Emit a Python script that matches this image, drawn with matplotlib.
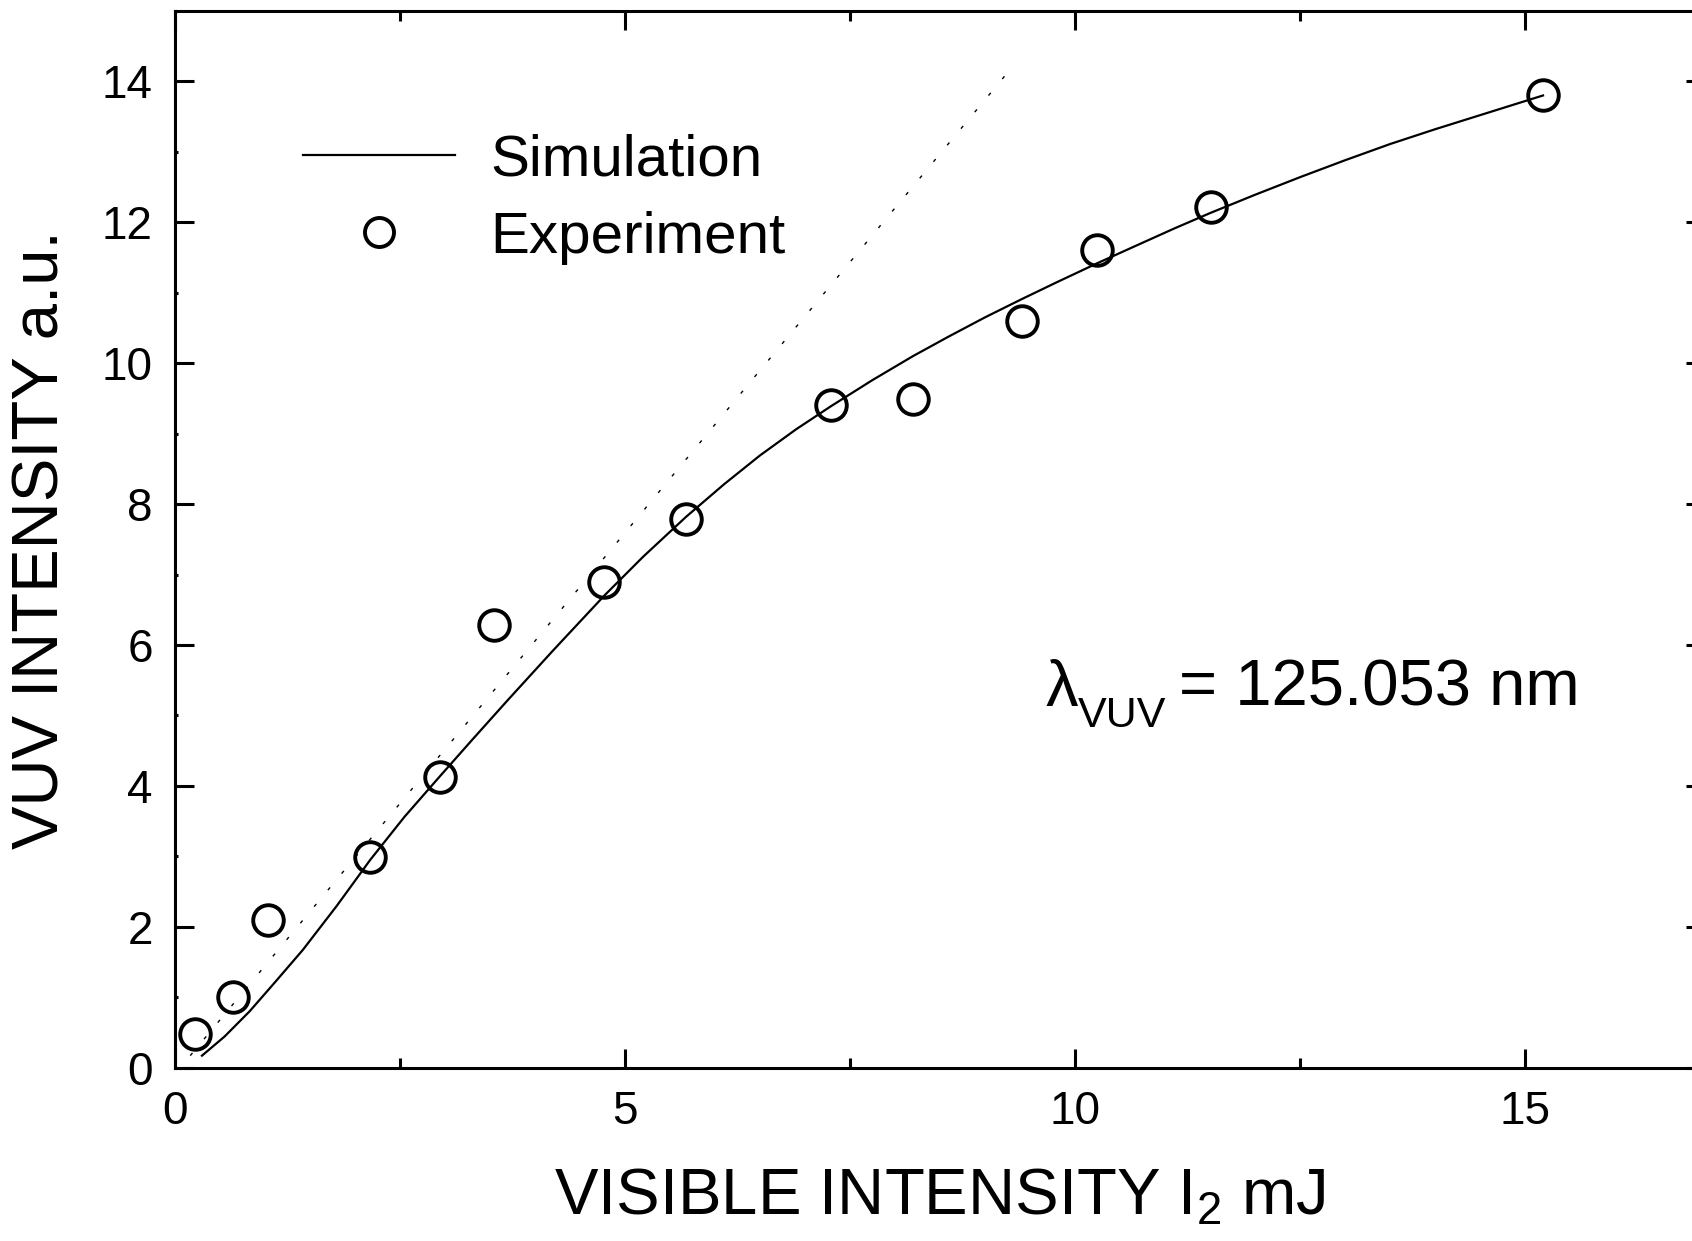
import matplotlib
matplotlib.use("Agg")
from matplotlib import pyplot as plt
from matplotlib.ticker import MultipleLocator

# measured points
EXP_X = [0.22, 0.65, 1.03, 2.17, 2.94, 3.55, 4.77, 5.68, 7.29, 8.20, 9.41, 10.25, 11.51, 15.20]
EXP_Y = [0.48, 1.00, 2.09, 2.99, 4.13, 6.29, 6.89, 7.79, 9.40, 9.49, 10.60, 11.60, 12.21, 13.80]

# simulated response
SIM_X = [0.30, 0.55, 0.83, 1.11, 1.42, 1.80, 2.17, 2.55, 2.94, 3.30, 3.70, 4.20, 4.77, 5.20,
         5.68, 6.10, 6.50, 6.90, 7.29, 7.75, 8.20, 8.60, 9.00, 9.41, 9.80, 10.25, 10.70, 11.10,
         11.50, 12.00, 12.50, 13.00, 13.50, 14.00, 14.60, 15.20]
SIM_Y = [0.17, 0.44, 0.80, 1.21, 1.67, 2.30, 2.95, 3.56, 4.13, 4.65, 5.22, 5.92, 6.70, 7.25,
         7.82, 8.28, 8.69, 9.06, 9.39, 9.76, 10.10, 10.38, 10.65, 10.91, 11.15, 11.42, 11.68, 11.91,
         12.13, 12.39, 12.64, 12.88, 13.11, 13.32, 13.56, 13.80]

# linear (low intensity) asymptote
LIN_X = [0.17, 9.30]
LIN_Y = [0.17, 14.20]

X_TICKS = [0, 5, 10, 15]
Y_TICKS = [0, 2, 4, 6, 8, 10, 12, 14]

plt.rcParams["font.family"] = ["Liberation Sans", "DejaVu Sans"]
plt.rcParams["mathtext.fontset"] = "custom"
plt.rcParams["mathtext.rm"] = "Liberation Sans"
plt.rcParams["mathtext.it"] = "Liberation Sans"
plt.rcParams["mathtext.bf"] = "Liberation Sans"

fig = plt.figure(figsize=(16.92, 12.41), dpi=100)
ax = fig.add_axes([0.1034, 0.1397, 0.9043, 0.8515])

ax.plot(LIN_X, LIN_Y, color="black", linewidth=1.0, linestyle=(0, (2.5, 13)))
ax.plot(SIM_X, SIM_Y, color="black", linewidth=1.6, label="Simulation")
ax.plot(EXP_X, EXP_Y, linestyle="none", marker="o", markersize=22, markerfacecolor="none",
        markeredgecolor="black", markeredgewidth=2.8, label="Experiment")

ax.set_xlim(0, 17)
ax.set_ylim(0, 15)
ax.set_xticks(X_TICKS)
ax.set_yticks(Y_TICKS)
ax.xaxis.set_minor_locator(MultipleLocator(2.5))
ax.yaxis.set_minor_locator(MultipleLocator(1))

for s in ax.spines.values():
    s.set_linewidth(2.2)
ax.tick_params(which="both", direction="in", top=True, right=True)
ax.tick_params(which="major", length=14, width=2.2, labelsize=33, pad=16)
ax.tick_params(axis="x", which="minor", length=7, width=2.2)
ax.tick_params(axis="y", which="minor", length=2, width=2.2)

ax.set_xlabel(r"VISIBLE INTENSITY I$_2$ mJ", fontsize=47, labelpad=24)
ax.set_ylabel("VUV INTENSITY a.u.", fontsize=47, labelpad=22)

# wavelength label: lambda, lowered subscript, value
ax.text(9.67, 5.14, "\u03bb", fontsize=47, ha="left", va="baseline")
ax.text(10.03, 4.84, "VUV", fontsize=31, ha="left", va="baseline")
ax.text(11.15, 5.14, "= 125.053 nm", fontsize=47, ha="left", va="baseline")

ax.legend(loc="upper left", bbox_to_anchor=(0.084, 0.884), frameon=False, fontsize=42,
          handlelength=2.6, handletextpad=0.6, labelspacing=0.4, borderpad=0,
          borderaxespad=0, markerscale=0.95)

fig.savefig("out.png", dpi=100)
